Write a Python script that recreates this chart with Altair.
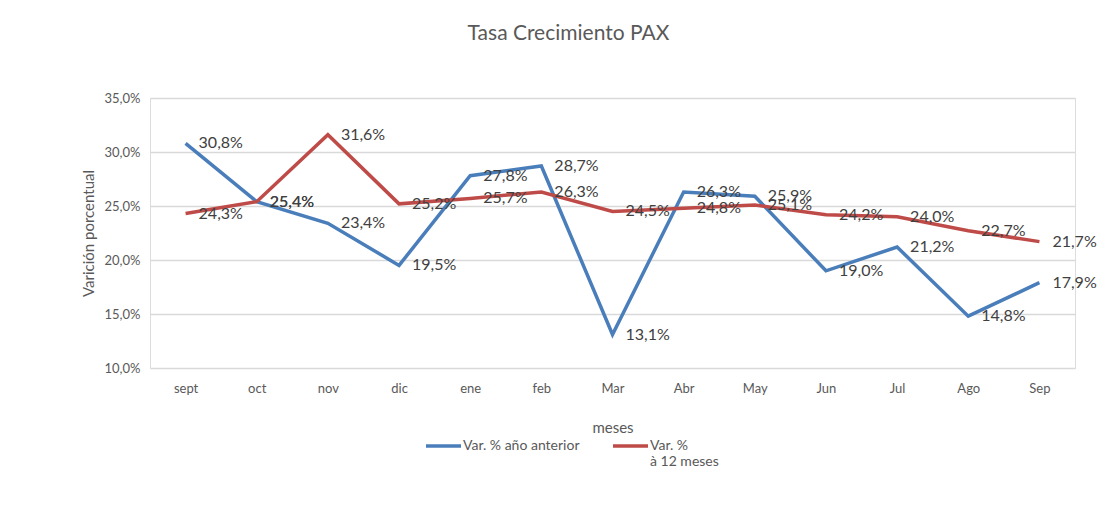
import altair as alt
import pandas as pd

months = ["sept", "oct", "nov", "dic", "ene", "feb", "Mar", "Abr", "May", "Jun", "Jul", "Ago", "Sep"]
var_anio_anterior = [30.8, 25.4, 23.4, 19.5, 27.8, 28.7, 13.1, 26.3, 25.9, 19.0, 21.2, 14.8, 17.9]
var_12_meses = [24.3, 25.4, 31.6, 25.2, 25.7, 26.3, 24.5, 24.8, 25.1, 24.2, 24.0, 22.7, 21.7]
series = ["Var. % año anterior", "Var. %|à 12 meses"]
y_ticks = [10, 15, 20, 25, 30, 35]

rows = []
for s, vals in zip(series, [var_anio_anterior, var_12_meses]):
    for m, v in zip(months, vals):
        rows.append({"mes": m, "serie": s, "valor": v,
                     "lbl": f"{v:.1f}".replace(".", ",") + "%"})
df = pd.DataFrame(rows)

FONT = "Lato"
GRAY = "#595959"

x = alt.X("mes:N", sort=months,
          scale=alt.Scale(type="point", padding=0.5),
          axis=alt.Axis(title="meses", labelAngle=0, ticks=False, domain=False, grid=False,
                        labelPadding=14, labelColor=GRAY, labelFontSize=13, labelFont=FONT,
                        titleColor=GRAY, titleFontSize=15, titleFont=FONT, titleFontWeight="normal",
                        titlePadding=25))
y = alt.Y("valor:Q", scale=alt.Scale(domain=[10, 35], nice=False, zero=False),
          axis=alt.Axis(title="Varición porcentual", values=y_ticks,
                        labelExpr="replace(format(datum.value, '.1f'), '.', ',') + '%'",
                        ticks=False, domain=False, gridColor="#d9d9d9", gridWidth=1.3,
                        labelPadding=10, labelColor=GRAY, labelFontSize=13, labelFont=FONT,
                        titleColor=GRAY, titleFontSize=15, titleFont=FONT, titleFontWeight="normal",
                        titlePadding=8))

lines = alt.Chart(df).mark_line(strokeWidth=3.5).encode(
    x=x, y=y,
    color=alt.Color("serie:N", sort=series,
                    scale=alt.Scale(domain=series, range=["#4a7ebb", "#be4b48"]),
                    legend=alt.Legend(title=None, orient="none", legendX=274, legendY=332,
                                      direction="horizontal", symbolType="M-1,-0.22H1",
                                      symbolSize=1225, symbolStrokeWidth=3.5,
                                      labelExpr="indexof(datum.label, '|') < 0 ? [datum.label, ' '] : split(datum.label, '|')",
                                      labelFont=FONT, labelFontSize=14, labelColor=GRAY,
                                      labelOffset=0, columnPadding=26, labelBaseline="alphabetic",
                                      labelLimit=300))
)

labels = alt.Chart(df).mark_text(align="left", baseline="middle", dx=13, fontSize=16,
                                 font=FONT, color="#404040").encode(
    x=x, y=y, text="lbl:N")

chart = (lines + labels).properties(
    width=925, height=270,
    title=alt.TitleParams("Tasa Crecimiento PAX", fontSize=21, color=GRAY, font=FONT,
                          fontWeight="normal", offset=48, dx=-44, anchor="middle"),
    padding={"left": 73, "top": 15, "right": 5, "bottom": 5},
).configure_view(stroke=None).configure(background="white")

chart.save("out.html", embed_options={"renderer": "svg", "actions": False})
